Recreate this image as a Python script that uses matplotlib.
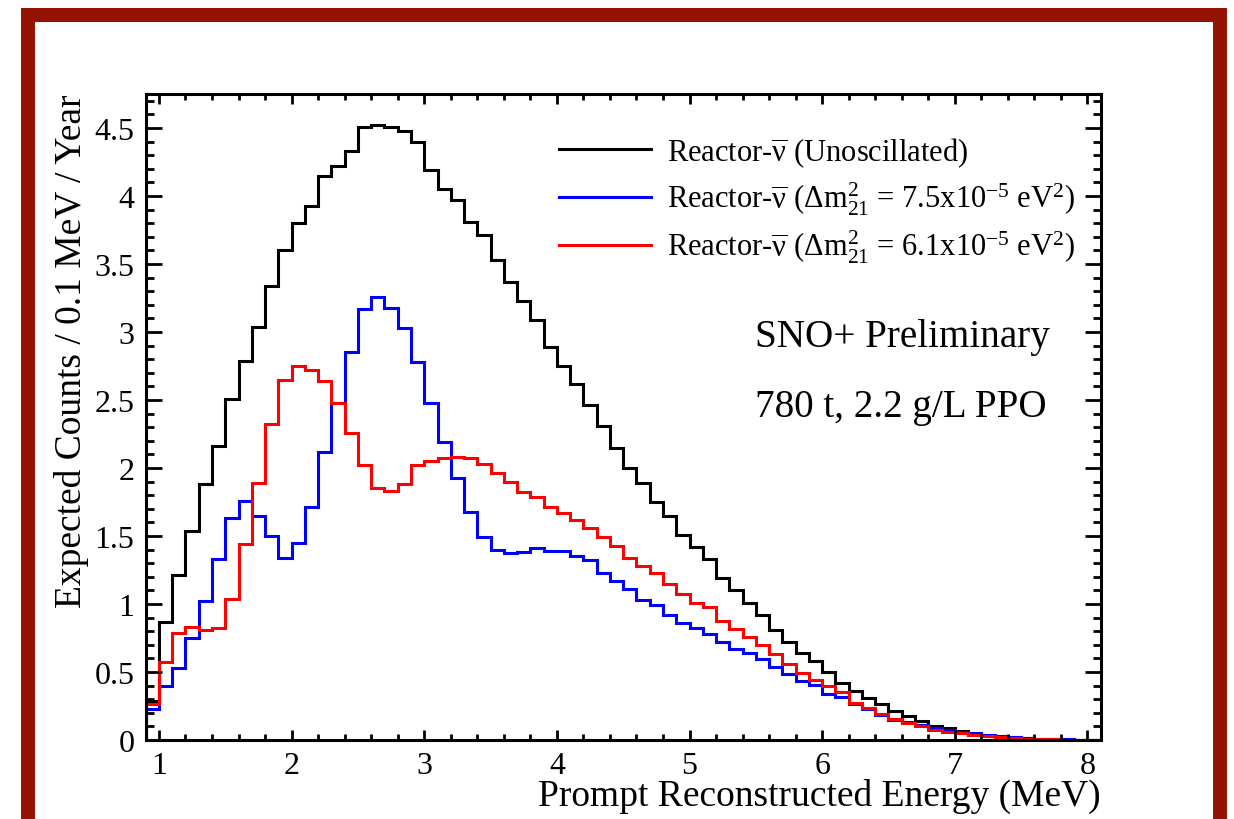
import numpy as np
import matplotlib
matplotlib.use("Agg")
import matplotlib.pyplot as plt
from matplotlib.patches import Rectangle
from matplotlib.ticker import MultipleLocator

# Bin edges: 0.1 MeV wide, 0.9 to 8.1 MeV
edges = np.round(np.arange(0.9, 8.1001, 0.1), 1)

unoscillated = [
    0.29, 0.87, 1.21, 1.54, 1.88, 2.16, 2.51, 2.79, 3.04, 3.34,
    3.60, 3.80, 3.93, 4.15, 4.22, 4.33, 4.51, 4.52, 4.51, 4.48,
    4.40, 4.19, 4.05, 3.97, 3.81, 3.71, 3.53, 3.37, 3.23, 3.09,
    2.89, 2.75, 2.62, 2.46, 2.31, 2.15, 2.00, 1.89, 1.75, 1.645,
    1.51, 1.42, 1.33, 1.19, 1.105, 1.01, 0.92, 0.81, 0.72, 0.64,
    0.58, 0.50, 0.42, 0.36, 0.31, 0.265, 0.215, 0.174, 0.142, 0.105,
    0.086, 0.068, 0.051, 0.039, 0.030, 0.022, 0.015, 0.010, 0.007, 0.004,
    0.002, 0.001,
]

osc_75 = [
    0.23, 0.40, 0.53, 0.75, 1.02, 1.33, 1.63, 1.76, 1.65, 1.50,
    1.34, 1.45, 1.71, 2.12, 2.48, 2.85, 3.17, 3.26, 3.18, 3.03,
    2.78, 2.48, 2.19, 1.93, 1.68, 1.495, 1.40, 1.375, 1.385, 1.415,
    1.39, 1.39, 1.35, 1.32, 1.23, 1.17, 1.11, 1.03, 0.995, 0.92,
    0.86, 0.82, 0.78, 0.72, 0.67, 0.64, 0.596, 0.535, 0.485, 0.436,
    0.404, 0.338, 0.314, 0.265, 0.228, 0.184, 0.15, 0.13, 0.11, 0.086,
    0.073, 0.061, 0.048, 0.036, 0.028, 0.020, 0.014, 0.010, 0.007, 0.005,
    0.003, 0.002,
]

osc_61 = [
    0.265, 0.576, 0.79, 0.83, 0.81, 0.82, 1.04, 1.44, 1.89, 2.32,
    2.65, 2.75, 2.72, 2.64, 2.48, 2.255, 2.02, 1.85, 1.83, 1.88,
    2.02, 2.05, 2.07, 2.08, 2.07, 2.03, 1.96, 1.895, 1.82, 1.79,
    1.71, 1.67, 1.62, 1.56, 1.49, 1.43, 1.34, 1.28, 1.23, 1.15,
    1.07, 1.01, 0.976, 0.877, 0.816, 0.755, 0.70, 0.63, 0.56, 0.49,
    0.44, 0.395, 0.35, 0.27, 0.233, 0.19, 0.154, 0.125, 0.10, 0.076,
    0.061, 0.049, 0.037, 0.029, 0.022, 0.016, 0.011, 0.008, 0.005, 0.003,
    0.002, 0.001,
]

labels = [
    r"Reactor-$\overline{\mathrm{\nu}}$ (Unoscillated)",
    r"Reactor-$\overline{\mathrm{\nu}}$ ($\Delta$m$^{2}_{21}$ = 7.5x10$^{\mathrm{-5}}$ eV$^{2}$)",
    r"Reactor-$\overline{\mathrm{\nu}}$ ($\Delta$m$^{2}_{21}$ = 6.1x10$^{\mathrm{-5}}$ eV$^{2}$)",
]
colors = ["black", "#0000ff", "#ff0000"]

plt.rcParams["font.family"] = ["Liberation Serif", "DejaVu Serif"]
plt.rcParams["mathtext.fontset"] = "custom"
plt.rcParams["mathtext.rm"] = "Liberation Serif"
plt.rcParams["mathtext.it"] = "Liberation Serif:italic"
plt.rcParams["mathtext.bf"] = "Liberation Serif:bold"

W, H = 1234, 820
fig = plt.figure(figsize=(W / 100, H / 100), dpi=100)
ax = fig.add_axes([145.7 / W, 1 - 741 / H, 955 / W, 646 / H])

for vals, col, lab in zip([unoscillated, osc_75, osc_61], colors, labels):
    ax.stairs(vals, edges, color=col, lw=2.2, label=lab)

ax.set_xlim(0.9, 8.1)
ax.set_ylim(0, 4.75)

ax.xaxis.set_major_locator(MultipleLocator(1))
ax.xaxis.set_minor_locator(MultipleLocator(0.2))
ax.yaxis.set_major_locator(MultipleLocator(0.5))
ax.yaxis.set_minor_locator(MultipleLocator(0.1))
ax.set_yticks(np.arange(0, 4.51, 0.5))
ax.set_yticklabels(["0", "0.5", "1", "1.5", "2", "2.5", "3", "3.5", "4", "4.5"])

for sp in ax.spines.values():
    sp.set_linewidth(2.2)
ax.tick_params(which="both", direction="in", top=True, right=True, width=2.0,
               labelsize=23)
ax.tick_params(axis="y", which="major", length=11.5, pad=8)
ax.tick_params(axis="y", which="minor", length=5.5)
ax.tick_params(axis="x", which="major", length=7.5, pad=8)
ax.tick_params(axis="x", which="minor", length=4)

ax.set_xlabel("Prompt Reconstructed Energy (MeV)", fontsize=27, loc="right")
ax.xaxis.set_label_coords(1.0, -(796 - 741) / 646)
ax.xaxis.label.set_va("center")
ax.set_ylabel("Expected Counts / 0.1 MeV / Year", fontsize=27, loc="top")
ax.yaxis.set_label_coords(-(145.7 - 72) / 955, 1.0)
ax.yaxis.label.set_va("center")

ax.legend(loc="upper left", bbox_to_anchor=((559 - 145.7) / 955, (741 - 136) / 646),
          frameon=False, fontsize=22, handlelength=3.0, handletextpad=0.52,
          labelspacing=0.36, borderpad=0, borderaxespad=0)

ax.text((755 - 145.7) / 955, (741 - 337) / 646, "SNO+ Preliminary",
        transform=ax.transAxes, fontsize=28.2, va="center", ha="left")
ax.text((755 - 145.7) / 955, (741 - 407) / 646, "780 t, 2.2 g/L PPO",
        transform=ax.transAxes, fontsize=28.2, va="center", ha="left")

# dark red frame round the whole canvas
frame = Rectangle((27.5 / W, 1 - 823 / H), (1219.5 - 27.5) / W, (823 - 16) / H,
                  transform=fig.transFigure, fill=False, edgecolor="#931200",
                  linewidth=10.1, clip_on=False)
fig.patches.append(frame)

fig.savefig("out.png", dpi=100)
